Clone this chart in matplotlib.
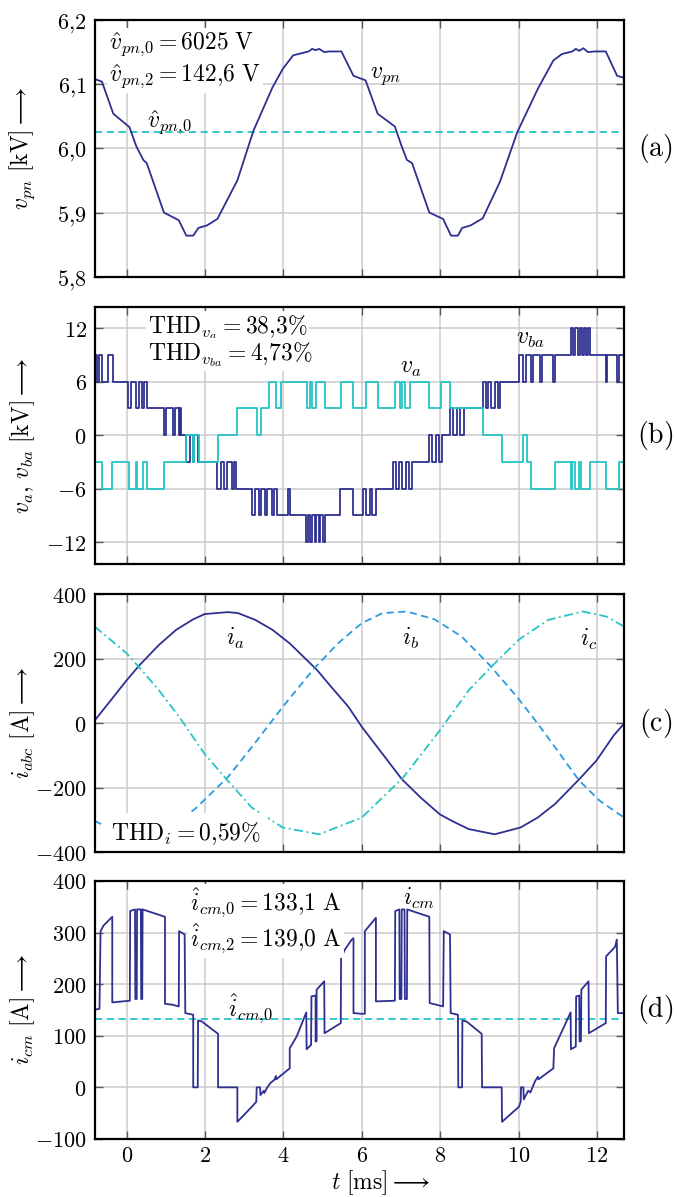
import matplotlib
matplotlib.use("Agg")
import matplotlib.pyplot as plt
from matplotlib.ticker import FixedLocator, FuncFormatter

plt.rcParams["mathtext.fontset"] = "cm"
plt.rcParams["font.family"] = ["DejaVu Serif"]

# ---------------- data ----------------
# (a) DC-link pole-to-neutral voltage v_pn [kV]
t_vpn = [-0.818, -0.633, -0.343, 0.070, 0.246, 0.422, 0.510, 0.950, 1.328, 1.522,
         1.697, 1.829, 2.049, 2.313, 2.823, 3.237, 3.720, 3.984, 4.248, 4.644,
         4.732, 4.820, 4.908, 5.040, 5.172, 5.479, 5.787, 6.095, 6.403, 6.843,
         7.018, 7.150, 7.282, 7.722, 8.074, 8.276, 8.452, 8.558, 8.777, 9.085,
         9.525, 9.965, 10.493, 10.888, 11.108, 11.372, 11.460, 11.548, 11.653, 11.768,
         11.944, 12.225, 12.515, 12.691]
v_pn = [6.108, 6.104, 6.054, 6.033, 6.003, 5.982, 5.977, 5.900, 5.888, 5.864,
        5.864, 5.876, 5.880, 5.890, 5.950, 6.028, 6.095, 6.124, 6.145, 6.151,
        6.155, 6.153, 6.155, 6.150, 6.151, 6.151, 6.113, 6.106, 6.054, 6.034,
        6.003, 5.982, 5.977, 5.900, 5.890, 5.864, 5.864, 5.876, 5.880, 5.891,
        5.948, 6.025, 6.093, 6.137, 6.147, 6.151, 6.155, 6.152, 6.156, 6.150,
        6.151, 6.151, 6.113, 6.110]
v_pn0 = 6.025   # kV
v_pn2 = 142.6   # V

# (b) phase voltage v_a and line voltage v_ba [kV], switching instants in ms
t_va = [-0.818, -0.633, -0.369, 0.070, 0.229, 0.273, 0.422, 0.510, 0.950, 1.504,
        1.680, 1.724, 1.856, 2.331, 2.823, 3.325, 3.430, 3.632, 3.808, 3.940,
        4.600, 4.688, 4.732, 4.820, 5.057, 5.479, 5.787, 6.095, 6.403, 6.843,
        6.975, 7.018, 7.106, 7.238, 7.722, 8.030, 8.250, 9.085, 9.569, 10.123,
        10.211, 10.317, 10.932, 11.328, 11.372, 11.443, 11.548, 11.592, 11.829, 12.225,
        12.559, 12.691]
v_a = [-3, -6, -3, -6, -3, -6, -3, -6, -3, 0,
       -3, 0, -3, 0, 3, 0, 3, 6, 3, 6,
       3, 6, 3, 6, 3, 6, 3, 6, 3, 6,
       3, 6, 3, 6, 3, 6, 3, 0, -3, 0,
       -3, -6, -3, -6, -3, -6, -3, -6, -3, -6,
       -3, -3]

t_vba = [-0.818, -0.756, -0.712, -0.642, -0.484, -0.361,
         0.026, 0.097, 0.246, 0.308, 0.378, 0.449, 0.528,
         0.950, 1.011, 1.170, 1.231, 1.328, 1.363, 1.390,
         1.522, 1.609, 1.680, 1.724, 1.829,
         2.313, 2.401, 2.489, 2.559, 2.682, 2.726, 2.797,
         3.193, 3.281, 3.369, 3.439, 3.527, 3.588, 3.703, 3.747, 3.826,
         4.125, 4.160,
         4.582, 4.617, 4.688, 4.732, 4.793, 4.837, 4.899, 4.934, 5.004, 5.048,
         5.453, 5.787, 6.033, 6.095, 6.201, 6.271, 6.359,
         6.799, 6.869, 6.957, 7.027, 7.133, 7.194, 7.282,
         7.722, 7.792, 7.898, 7.960, 8.047,
         8.250, 8.338, 8.426, 8.514, 8.602,
         9.085, 9.156, 9.217, 9.305, 9.393, 9.481, 9.525,
         10.009, 10.114, 10.193, 10.316, 10.378, 10.536, 10.598, 10.888, 10.923,
         11.328, 11.390, 11.443, 11.513, 11.557, 11.618, 11.662, 11.724, 11.759, 11.812,
         12.225, 12.269, 12.516, 12.568, 12.691]
v_ba = [9, 6, 9, 6, 9, 6,
        3, 6, 3, 6, 3, 6, 3,
        0, 3, 0, 3, 0, 3, 0,
        -3, 0, -3, 0, -3,
        -6, -3, -6, -3, -6, -3, -6,
        -9, -6, -9, -6, -9, -6, -9, -6, -9,
        -6, -9,
        -12, -9, -12, -9, -12, -9, -12, -9, -12, -9,
        -6, -9, -6, -9, -6, -9, -6,
        -3, -6, -3, -6, -3, -6, -3,
        0, -3, 0, -3, 0,
        3, 0, 3, 0, 3,
        6, 3, 6, 3, 6, 3, 6,
        9, 6, 9, 6, 9, 6, 9, 6, 9,
        12, 9, 12, 9, 12, 9, 12, 9, 12, 9,
        6, 9, 6, 9, 9]
thd_va = "38{,}3"
thd_vba = "4{,}73"

# (c) phase currents [A]
t_ia = [-0.818, -0.41, 0.0, 0.33, 0.82, 1.26, 1.70, 1.99, 2.58, 2.84,
        3.28, 3.72, 4.16, 4.60, 4.86, 5.22, 5.66, 6.00, 6.53, 7.02,
        7.50, 7.99, 8.29, 8.73, 9.39, 10.05, 10.49, 10.93, 11.55, 11.99,
        12.43, 12.69]
i_a = [8, 70, 133, 180, 242, 289, 322, 338, 344, 341,
       320, 289, 247, 195, 164, 112, 50, -12, -96, -174,
       -231, -283, -303, -329, -345, -324, -293, -251, -174, -116,
       -38, -2]
t_ib = [-0.818, -0.40, 0.40, 1.00, 1.74, 2.58, 3.19, 3.98, 4.78, 5.39,
        6.00, 6.53, 7.15, 7.85, 8.55, 9.26, 9.96, 10.49, 10.93, 11.55,
        12.07, 12.69]
i_b = [-303, -330, -345, -330, -267, -168, -75, 50, 169, 247,
       310, 341, 346, 322, 268, 180, 81, -2, -75, -179,
       -241, -293]
t_ic = [-0.818, -0.41, 0.0, 0.38, 0.82, 1.34, 1.99, 2.58, 3.19, 3.98,
        4.91, 6.00, 6.62, 7.06, 7.99, 8.73, 9.35, 10.00, 10.76, 11.64,
        12.25, 12.69]
i_c = [299, 258, 216, 164, 102, 19, -96, -179, -262, -324,
       -345, -293, -220, -168, -23, 102, 180, 258, 320, 346,
       330, 299]
thd_i = "0{,}59"

# (d) circulating current i_cm [A]
t_icm = [-0.818, -0.695, -0.668, -0.589, -0.369, -0.369, 0.079, 0.088, 0.211, 0.220,
         0.255, 0.264, 0.361, 0.369, 0.396, 0.405, 0.976, 0.976, 1.170, 1.328,
         1.337, 1.478, 1.495, 1.697, 1.697, 1.812, 1.821, 1.917, 2.331, 2.331,
         2.823, 2.823, 3.193, 3.307, 3.316, 3.404, 3.412, 3.500, 3.510, 3.588,
         3.676, 3.764, 3.808, 3.817, 4.160, 4.160, 4.336, 4.582, 4.591, 4.705,
         4.714, 4.820, 4.820, 4.846, 4.846, 5.040, 5.048, 5.462, 5.470, 5.567,
         5.743, 5.787, 5.787, 6.007, 6.077, 6.077, 6.359, 6.359, 6.843, 6.852,
         6.957, 6.966, 7.010, 7.018, 7.089, 7.098, 7.150, 7.159, 7.722, 7.731,
         8.074, 8.091, 8.250, 8.267, 8.452, 8.461, 8.558, 8.566, 8.672, 9.059,
         9.068, 9.569, 9.578, 10.009, 10.053, 10.062, 10.123, 10.132, 10.211, 10.246,
         10.300, 10.420, 10.493, 10.510, 10.888, 10.906, 11.328, 11.337, 11.460, 11.469,
         11.548, 11.557, 11.592, 11.601, 11.785, 11.794, 12.225, 12.234, 12.463, 12.507,
         12.533, 12.691]
i_cm = [150.4, 152.3, 302.8, 313.8, 330.6, 164.7, 167.9, 341.7, 344.9, 171.2,
        171.2, 344.9, 344.9, 171.2, 171.2, 344.9, 330.6, 162.1, 160.1, 156.9,
        302.8, 296.3, 143.9, 140.7, 0.0, 0.0, 129.7, 127.7, 103.7, 0.0,
        0.0, -66.8, -37.6, -27.9, 0.0, 0.0, -14.9, -6.5, -11.0, 0.0,
        9.1, 14.3, 22.0, 15.6, 36.9, 75.8, 98.5, 145.2, 73.9, 82.3,
        176.3, 178.0, 88.8, 90.0, 189.3, 205.5, 105.0, 124.5, 250.9, 267.1,
        286.5, 289.0, 143.9, 142.6, 142.6, 302.8, 328.7, 166.6, 167.9, 341.7,
        344.9, 171.2, 171.2, 344.9, 344.9, 171.2, 171.2, 344.9, 330.6, 163.4,
        156.9, 302.8, 296.3, 143.9, 140.7, 0.0, 0.0, 129.7, 127.7, 103.7,
        0.0, 0.0, -66.8, -37.6, -27.9, 0.0, 0.0, -23.3, -11.7, -6.5,
        -10.0, 12.0, 20.7, 15.6, 36.9, 75.8, 145.2, 73.9, 79.1, 176.3,
        178.0, 88.8, 90.0, 189.3, 205.5, 105.0, 124.5, 254.1, 272.3, 286.5,
        143.9, 143.9]
i_cm0 = 133.1
i_cm2 = "139{,}0"

# ---------------- styling ----------------
NAVY = "#2d3090"
CYAN = "#25c4c6"
BLUE = "#2a9be0"
GRID = "#cbcbcb"
TICKC = "#5a5a5a"
FS_TICK = 16
FS_TXT = 17
FS_PANEL = 20
XLIM = (-0.81, 12.69)


def comma(val, fmt):
    s = fmt.format(val).replace(".", "{,}")
    return "$" + s + "$"


def style(ax, yticks, ylim, yfmt, show_x):
    ax.set_xlim(*XLIM)
    ax.set_ylim(*ylim)
    ax.xaxis.set_major_locator(FixedLocator([0, 2, 4, 6, 8, 10, 12]))
    ax.yaxis.set_major_locator(FixedLocator(yticks))
    ax.yaxis.set_major_formatter(FuncFormatter(lambda v, p: comma(v, yfmt)))
    if show_x:
        ax.xaxis.set_major_formatter(FuncFormatter(lambda v, p: "$%d$" % round(v)))
    else:
        ax.xaxis.set_major_formatter(FuncFormatter(lambda v, p: ""))
    ax.grid(True, color=GRID, linewidth=1.1)
    ax.set_axisbelow(True)
    ax.tick_params(direction="in", length=6, width=1.0, color=TICKC,
                   top=True, right=True, labelsize=FS_TICK, pad=6)
    ax.tick_params(axis="x", pad=4)
    for sp in ax.spines.values():
        sp.set_linewidth(1.6)
        sp.set_color("black")
        sp.set_zorder(8)


fig = plt.figure(figsize=(6.77, 11.97), dpi=100)
L, W = 0.1403, 0.7814
ax_a = fig.add_axes([L, 0.7688, W, 0.2145])
ax_b = fig.add_axes([L, 0.5291, W, 0.2147])
ax_c = fig.add_axes([L, 0.2882, W, 0.2155])
ax_d = fig.add_axes([L, 0.0485, W, 0.2155])

box = dict(facecolor="white", edgecolor="none", pad=1.5)

# (a)
style(ax_a, [5.8, 5.9, 6.0, 6.1, 6.2], (5.8, 6.2), "{:.1f}", False)
ax_a.plot(t_vpn, v_pn, color=NAVY, lw=1.3, zorder=3)
ax_a.axhline(v_pn0, color=CYAN, lw=1.3, ls=(0, (4, 2.5)), zorder=2)
ax_a.text(0.027, 0.905, r"$\hat{v}_{pn{,}0}=%d\ \mathrm{V}$" % round(v_pn0 * 1000),
          transform=ax_a.transAxes, fontsize=FS_TXT, va="center", ha="left",
          bbox=box, zorder=5)
ax_a.text(0.027, 0.78, r"$\hat{v}_{pn{,}2}=%s\ \mathrm{V}$" % ("%.1f" % v_pn2).replace(".", "{,}"),
          transform=ax_a.transAxes, fontsize=FS_TXT, va="center", ha="left",
          bbox=box, zorder=5)
ax_a.text(1.1, 6.04, r"$\hat{v}_{pn{,}0}$", fontsize=FS_TXT, ha="center", va="center", zorder=5)
ax_a.text(6.6, 6.114, r"$v_{pn}$", fontsize=FS_TXT, ha="center", va="center", zorder=5)
ax_a.set_ylabel(r"$v_{pn}\ [\mathrm{kV}]\longrightarrow$", fontsize=FS_TXT)

# (b)
style(ax_b, [-12, -6, 0, 6, 12], (-14.4, 14.4), "{:.0f}", False)
ax_b.step(t_vba, v_ba, where="post", color=NAVY, lw=1.3, zorder=3)
ax_b.step(t_va, v_a, where="post", color=CYAN, lw=1.3, zorder=3)
ax_b.text(0.10, 0.92, r"$\mathrm{THD}_{v_a}=%s\%%$" % thd_va, transform=ax_b.transAxes,
          fontsize=FS_TXT, va="center", ha="left", bbox=box, zorder=5)
ax_b.text(0.10, 0.815, r"$\mathrm{THD}_{v_{ba}}=%s\%%$" % thd_vba, transform=ax_b.transAxes,
          fontsize=FS_TXT, va="center", ha="left", bbox=box, zorder=5)
ax_b.text(7.26, 7.6, r"$v_a$", fontsize=FS_TXT, ha="center", va="center", zorder=5)
ax_b.text(10.3, 10.8, r"$v_{ba}$", fontsize=FS_TXT, ha="center", va="center", zorder=5)
ax_b.set_ylabel(r"$v_a,\, v_{ba}\ [\mathrm{kV}]\longrightarrow$", fontsize=FS_TXT)

# (c)
style(ax_c, [-400, -200, 0, 200, 400], (-400, 400), "{:.0f}", False)
ax_c.plot(t_ia, i_a, color=NAVY, lw=1.3, zorder=3)
ax_c.plot(t_ib, i_b, color=BLUE, lw=1.3, ls=(0, (4, 2.5)), zorder=3)
ax_c.plot(t_ic, i_c, color=CYAN, lw=1.3, ls=(0, (5, 2, 1, 2)), zorder=3)
ax_c.text(2.77, 262, r"$i_a$", fontsize=FS_TXT, ha="center", va="center", zorder=5)
ax_c.text(7.23, 262, r"$i_b$", fontsize=FS_TXT, ha="center", va="center", zorder=5)
ax_c.text(11.78, 258, r"$i_c$", fontsize=FS_TXT, ha="center", va="center", zorder=5)
ax_c.text(0.03, 0.072, r"$\mathrm{THD}_i=%s\%%$" % thd_i, transform=ax_c.transAxes,
          fontsize=FS_TXT, va="center", ha="left",
          bbox=dict(facecolor="white", edgecolor="none", pad=5), zorder=5)
ax_c.set_ylabel(r"$i_{abc}\ [\mathrm{A}]\longrightarrow$", fontsize=FS_TXT)

# (d)
style(ax_d, [-100, 0, 100, 200, 300, 400], (-100, 400), "{:.0f}", True)
ax_d.plot(t_icm, i_cm, color=NAVY, lw=1.3, zorder=3)
ax_d.axhline(i_cm0, color=CYAN, lw=1.3, ls=(0, (4, 2.5)), zorder=2)
ax_d.text(0.18, 0.915, r"$\hat{i}_{cm{,}0}=%s\ \mathrm{A}$" % ("%.1f" % i_cm0).replace(".", "{,}"),
          transform=ax_d.transAxes, fontsize=FS_TXT, va="center", ha="left",
          bbox=box, zorder=5)
ax_d.text(0.18, 0.775, r"$\hat{i}_{cm{,}2}=%s\ \mathrm{A}$" % i_cm2,
          transform=ax_d.transAxes, fontsize=FS_TXT, va="center", ha="left",
          bbox=box, zorder=5)
ax_d.text(3.15, 152, r"$\hat{i}_{cm{,}0}$", fontsize=FS_TXT, ha="center", va="center", zorder=5)
ax_d.text(7.44, 367, r"$i_{cm}$", fontsize=FS_TXT, ha="center", va="center", zorder=5)
ax_d.set_ylabel(r"$i_{cm}\ [\mathrm{A}]\longrightarrow$", fontsize=FS_TXT)
ax_d.set_xlabel(r"$t\ [\mathrm{ms}]\longrightarrow$", fontsize=FS_TXT)
ax_d.xaxis.set_label_coords(0.54, -0.112)

for ax, lab in zip([ax_a, ax_b, ax_c, ax_d], ["(a)", "(b)", "(c)", "(d)"]):
    ax.text(1.059, 0.5, r"$\mathrm{%s}$" % lab, transform=ax.transAxes,
            fontsize=FS_PANEL, ha="center", va="center")
    ax.yaxis.set_label_coords(-0.11, 0.5)

fig.savefig("out.png", dpi=100)
